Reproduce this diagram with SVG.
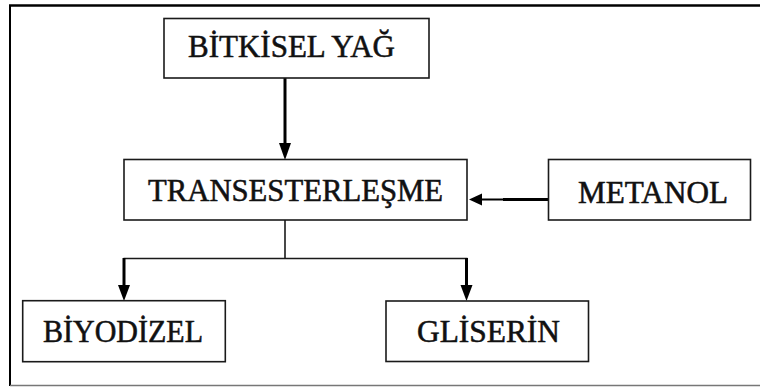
<svg xmlns="http://www.w3.org/2000/svg" width="760" height="387" viewBox="0 0 760 387">
  <style>
    .box { fill: #ffffff; stroke: #1a1a1a; stroke-width: 1.6; }
    .label { font-family: "Liberation Serif", "Times New Roman", serif; font-size: 31px; fill: #111111; stroke: #111111; stroke-width: 0.55; }
    .thick { stroke: #000000; stroke-width: 3; fill: none; }
    .thin { stroke: #1a1a1a; stroke-width: 1.6; fill: none; }
    .head { fill: #000000; }
  </style>
  <rect x="0" y="0" width="760" height="387" fill="#ffffff"/>

  <!-- outer frame -->
  <g id="frame">
    <line x1="9" y1="5.5" x2="760" y2="5.5" stroke="#000" stroke-width="2.5"/>
    <line x1="10" y1="5" x2="10" y2="386" stroke="#000" stroke-width="2"/>
    <line x1="10" y1="385.5" x2="760" y2="385.5" stroke="#777" stroke-width="1.5"/>
  </g>

  <!-- connectors -->
  <g id="connectors">
    <!-- vegetable oil to transesterification -->
    <line class="thick" x1="285" y1="78" x2="285" y2="146"/>
    <polygon class="head" points="279,143 291,143 285,160"/>
    <!-- methanol to transesterification -->
    <line class="thick" x1="503" y1="199.5" x2="548" y2="199.5"/>
    <line stroke="#000" stroke-width="2" x1="480" y1="199.5" x2="504" y2="199.5"/>
    <polygon class="head" points="469,199.5 482,193.5 482,205.5"/>
    <!-- split to the two products -->
    <line class="thin" x1="285" y1="220" x2="285" y2="258.5"/>
    <line class="thin" x1="123.5" y1="258.5" x2="467.5" y2="258.5"/>
    <line class="thick" x1="124" y1="258" x2="124" y2="288"/>
    <polygon class="head" points="118,285 130,285 124,301"/>
    <line class="thick" x1="466.5" y1="258" x2="466.5" y2="288"/>
    <polygon class="head" points="460.5,285 472.5,285 466.5,301"/>
  </g>

  <g id="bitkisel-yag">
    <rect class="box" x="164" y="18.5" width="265" height="59.5"/>
    <text class="label" x="188" y="57" textLength="207" lengthAdjust="spacingAndGlyphs">BİTKİSEL YAĞ</text>
  </g>

  <g id="transesterlesme">
    <rect class="box" x="124" y="159.5" width="343" height="60.5"/>
    <text class="label" x="148" y="200.5" textLength="295" lengthAdjust="spacingAndGlyphs">TRANSESTERLEŞME</text>
  </g>

  <g id="metanol">
    <rect class="box" x="548.5" y="159.5" width="202" height="60.5"/>
    <text class="label" x="578" y="203" textLength="150" lengthAdjust="spacingAndGlyphs">METANOL</text>
  </g>

  <g id="biyodizel">
    <rect class="box" x="22.7" y="300.7" width="202.6" height="61"/>
    <text class="label" x="43" y="342" textLength="160" lengthAdjust="spacingAndGlyphs">BİYODİZEL</text>
  </g>

  <g id="gliserin">
    <rect class="box" x="386" y="301" width="202.5" height="60.5"/>
    <text class="label" x="417" y="342" textLength="143" lengthAdjust="spacingAndGlyphs">GLİSERİN</text>
  </g>
</svg>
